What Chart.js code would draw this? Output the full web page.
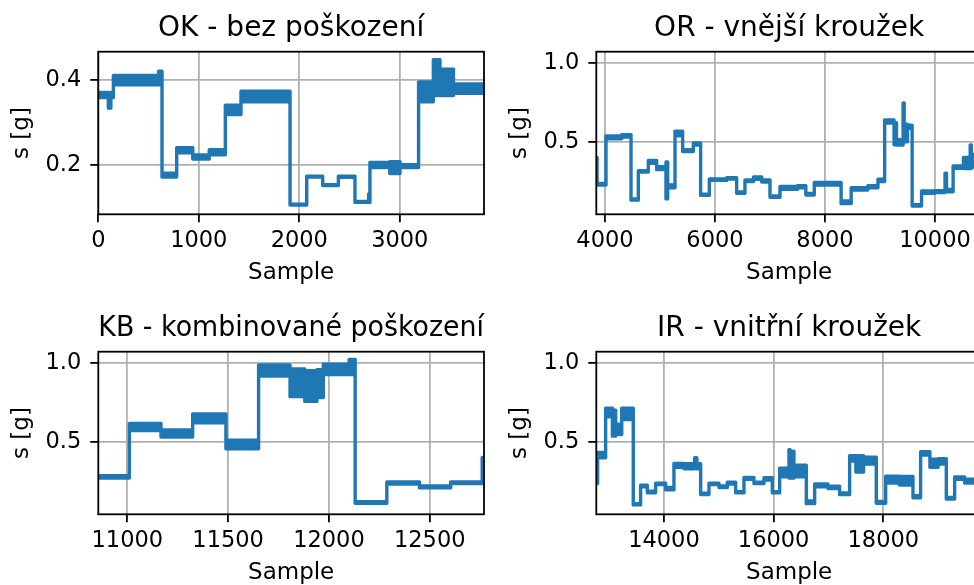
<!DOCTYPE html>
<html>
<head>
<meta charset="utf-8">
<script src="https://cdn.jsdelivr.net/npm/chart.js@4.4.1/dist/chart.umd.min.js"></script>
<style>
  html, body { margin: 0; padding: 0; background: #fff; overflow: hidden; }
  #wrap { position: relative; width: 974px; height: 585px; overflow: hidden; }
  #wrap canvas { position: absolute; }
</style>
</head>
<body>
<div id="wrap">
  <canvas id="ok" width="490" height="292" style="left:0;top:0"></canvas>
  <canvas id="or" width="490" height="292" style="left:498px;top:0"></canvas>
  <canvas id="kb" width="490" height="292" style="left:0;top:300px"></canvas>
  <canvas id="ir" width="490" height="292" style="left:498px;top:300px"></canvas>
</div>
<script>
// each record is a run of steps: edges[i]..edges[i+1] holds the signal between low[i] and high[i]

// OK - no damage
const okEdges = [0, 100, 125, 150, 600, 634, 780, 940, 1104, 1264, 1420, 1908, 2074, 2233, 2389, 2554, 2690, 2703, 2900, 3002, 3187, 3334, 3400, 3534, 3838];
const okHigh  = [0.371, 0.366, 0.371, 0.411, 0.421, 0.181, 0.241, 0.224, 0.236, 0.341, 0.374, 0.108, 0.174, 0.154, 0.174, 0.114, 0.132, 0.206, 0.208, 0.201, 0.396, 0.448, 0.426, 0.391];
const okLow   = [0.359, 0.334, 0.359, 0.389, 0.389, 0.172, 0.229, 0.214, 0.224, 0.319, 0.349, 0.106, 0.172, 0.152, 0.171, 0.112, 0.112, 0.194, 0.180, 0.194, 0.349, 0.364, 0.364, 0.369];

// OR - outer ring
const orEdges = [3842, 3856, 4018, 4300, 4473, 4606, 4788, 4939, 5109, 5140, 5273, 5412, 5606, 5739, 5897, 6212, 6394, 6545, 6700, 6850, 7000, 7182, 7500, 7652, 7805, 8293, 8476, 8780, 8963, 9085, 9256, 9300, 9420, 9440, 9500, 9585, 9756, 10000, 10183, 10210, 10330, 10518, 10640, 10660, 10855];
const orHigh  = [0.40, 0.236, 0.537, 0.545, 0.138, 0.317, 0.382, 0.342, 0.372, 0.227, 0.567, 0.450, 0.492, 0.168, 0.265, 0.272, 0.182, 0.258, 0.277, 0.258, 0.157, 0.217, 0.222, 0.172, 0.242, 0.125, 0.209, 0.222, 0.262, 0.637, 0.62, 0.512, 0.745, 0.61, 0.605, 0.102, 0.188, 0.19, 0.30, 0.198, 0.347, 0.40, 0.48, 0.42];
const orLow   = [0.235, 0.226, 0.518, 0.530, 0.130, 0.308, 0.363, 0.323, 0.138, 0.208, 0.538, 0.438, 0.478, 0.160, 0.255, 0.263, 0.173, 0.248, 0.262, 0.245, 0.148, 0.198, 0.208, 0.162, 0.225, 0.108, 0.194, 0.208, 0.248, 0.618, 0.48, 0.478, 0.50, 0.50, 0.585, 0.093, 0.173, 0.178, 0.183, 0.183, 0.331, 0.33, 0.33, 0.34];

// KB - combined damage
const kbEdges = [10856, 11010, 11167, 11324, 11489, 11651, 11807, 11880, 11940, 11972, 12100, 12130, 12287, 12449, 12604, 12760, 12769];
const kbHigh  = [0.285, 0.615, 0.575, 0.675, 0.51, 0.985, 0.96, 0.95, 0.955, 0.99, 1.02, 0.12, 0.245, 0.22, 0.246, 0.40];
const kbLow   = [0.27, 0.57, 0.53, 0.62, 0.455, 0.915, 0.785, 0.755, 0.78, 0.925, 0.925, 0.11, 0.232, 0.208, 0.235, 0.235];

// IR - inner ring
const irEdges = [12766, 12790, 12936, 13060, 13120, 13230, 13440, 13574, 13696, 13848, 14030, 14182, 14365, 14560, 14600, 14669, 14821, 15003, 15155, 15307, 15459, 15641, 15824, 15976, 16110, 16280, 16300, 16350, 16370, 16596, 16748, 16990, 17203, 17386, 17500, 17640, 17872, 18043, 18300, 18541, 18681, 18850, 19000, 19149, 19301, 19483, 19800];
const irHigh  = [0.42, 0.432, 0.712, 0.70, 0.61, 0.712, 0.108, 0.224, 0.187, 0.237, 0.21, 0.362, 0.36, 0.398, 0.36, 0.174, 0.237, 0.22, 0.243, 0.184, 0.273, 0.243, 0.272, 0.184, 0.332, 0.45, 0.33, 0.44, 0.352, 0.125, 0.232, 0.219, 0.175, 0.412, 0.412, 0.402, 0.122, 0.282, 0.28, 0.158, 0.437, 0.39, 0.392, 0.147, 0.277, 0.262];
const irLow   = [0.235, 0.398, 0.658, 0.535, 0.545, 0.64, 0.10, 0.215, 0.177, 0.228, 0.195, 0.338, 0.328, 0.338, 0.328, 0.166, 0.228, 0.21, 0.232, 0.176, 0.262, 0.235, 0.258, 0.176, 0.278, 0.27, 0.27, 0.27, 0.278, 0.108, 0.215, 0.204, 0.165, 0.378, 0.308, 0.358, 0.11, 0.238, 0.225, 0.145, 0.415, 0.338, 0.358, 0.137, 0.262, 0.238];

// axis limits and ticks
const okXRange = [0, 3838],      okYRange = [0.084, 0.467];
const orXRange = [3842, 10855],  orYRange = [0.0405, 1.0696];
const kbXRange = [10856, 12769], kbYRange = [0.0405, 1.0696];
const irXRange = [12766, 19800], irYRange = [0.0405, 1.0696];

const okXTicks = [0, 1000, 2000, 3000];
const orXTicks = [4000, 6000, 8000, 10000];
const kbXTicks = [11000, 11500, 12000, 12500];
const irXTicks = [14000, 16000, 18000];
const okYTicks = [0.2, 0.4];
const wideYTicks = [0.5, 1.0];

const BLUE = '#1f77b4';
const FONT = "'DejaVu Sans', sans-serif";

// upper edge left to right, then lower edge back, so the band can be filled as one shape
function band(edges, high, low) {
  const pts = [];
  high.forEach((v, i) => { pts.push({ x: edges[i], y: v }, { x: edges[i + 1], y: v }); });
  for (let i = low.length - 1; i >= 0; i--) {
    pts.push({ x: edges[i + 1], y: low[i] }, { x: edges[i], y: low[i] });
  }
  return pts;
}

// black box round the plot area, like the axes spines
const frame = {
  id: 'frame',
  afterDatasetsDraw(chart) {
    const { ctx, chartArea: a } = chart;
    ctx.save();
    ctx.strokeStyle = '#000';
    ctx.lineWidth = 1.8;
    ctx.strokeRect(a.left, a.top, a.right - a.left, a.bottom - a.top);
    ctx.restore();
  }
};

function panel(id, title, edges, high, low, xRange, yRange, xTicks, yTicks) {
  new Chart(document.getElementById(id), {
    type: 'line',
    data: {
      datasets: [{
        data: band(edges, high, low),
        borderColor: BLUE,
        backgroundColor: BLUE,
        borderWidth: 3.4,
        borderJoinStyle: 'round',
        fill: 'shape',
        pointRadius: 0,
        tension: 0
      }]
    },
    options: {
      responsive: false,
      animation: false,
      devicePixelRatio: 1,
      layout: { padding: { left: 0, right: 6, top: 0, bottom: 0 } },
      plugins: {
        legend: { display: false },
        tooltip: { enabled: false },
        title: {
          display: true,
          text: title,
          fullSize: false,
          color: '#000',
          font: { family: FONT, size: 28, weight: 'normal', lineHeight: 1.2 },
          padding: { top: 12, bottom: 6.1 }
        }
      },
      scales: {
        x: {
          type: 'linear',
          min: xRange[0],
          max: xRange[1],
          afterBuildTicks: s => { s.ticks = xTicks.map(v => ({ value: v })); },
          afterFit: s => { s.height = 77.7; },
          ticks: {
            color: '#000',
            font: { family: FONT, size: 22.5 },
            padding: 5,
            maxRotation: 0,
            autoSkip: false,
            callback: v => String(v)
          },
          grid: { color: '#b0b0b0', lineWidth: 1.8, tickLength: 8, tickColor: '#000', tickWidth: 1.8 },
          border: { display: false },
          title: {
            display: true,
            text: 'Sample',
            color: '#000',
            font: { family: FONT, size: 23, lineHeight: 1.2 },
            padding: { top: 0, bottom: 5.2 }
          }
        },
        y: {
          min: yRange[0],
          max: yRange[1],
          afterBuildTicks: s => { s.ticks = yTicks.map(v => ({ value: v })); },
          afterFit: s => { s.width = 98.3; },
          ticks: {
            color: '#000',
            font: { family: FONT, size: 22.5 },
            padding: 9,
            callback: v => v.toFixed(1)
          },
          grid: { color: '#b0b0b0', lineWidth: 1.8, tickLength: 8, tickColor: '#000', tickWidth: 1.8 },
          border: { display: false },
          title: {
            display: true,
            text: 's [g]',
            color: '#000',
            font: { family: FONT, size: 23, lineHeight: 1.2 },
            padding: { top: 8.5, bottom: 0 }
          }
        }
      }
    },
    plugins: [frame]
  });
}

panel('ok', 'OK - bez poškození', okEdges, okHigh, okLow, okXRange, okYRange, okXTicks, okYTicks);
panel('or', 'OR - vnější kroužek', orEdges, orHigh, orLow, orXRange, orYRange, orXTicks, wideYTicks);
panel('kb', 'KB - kombinované poškození', kbEdges, kbHigh, kbLow, kbXRange, kbYRange, kbXTicks, wideYTicks);
panel('ir', 'IR - vnitřní kroužek', irEdges, irHigh, irLow, irXRange, irYRange, irXTicks, wideYTicks);
</script>
</body>
</html>
